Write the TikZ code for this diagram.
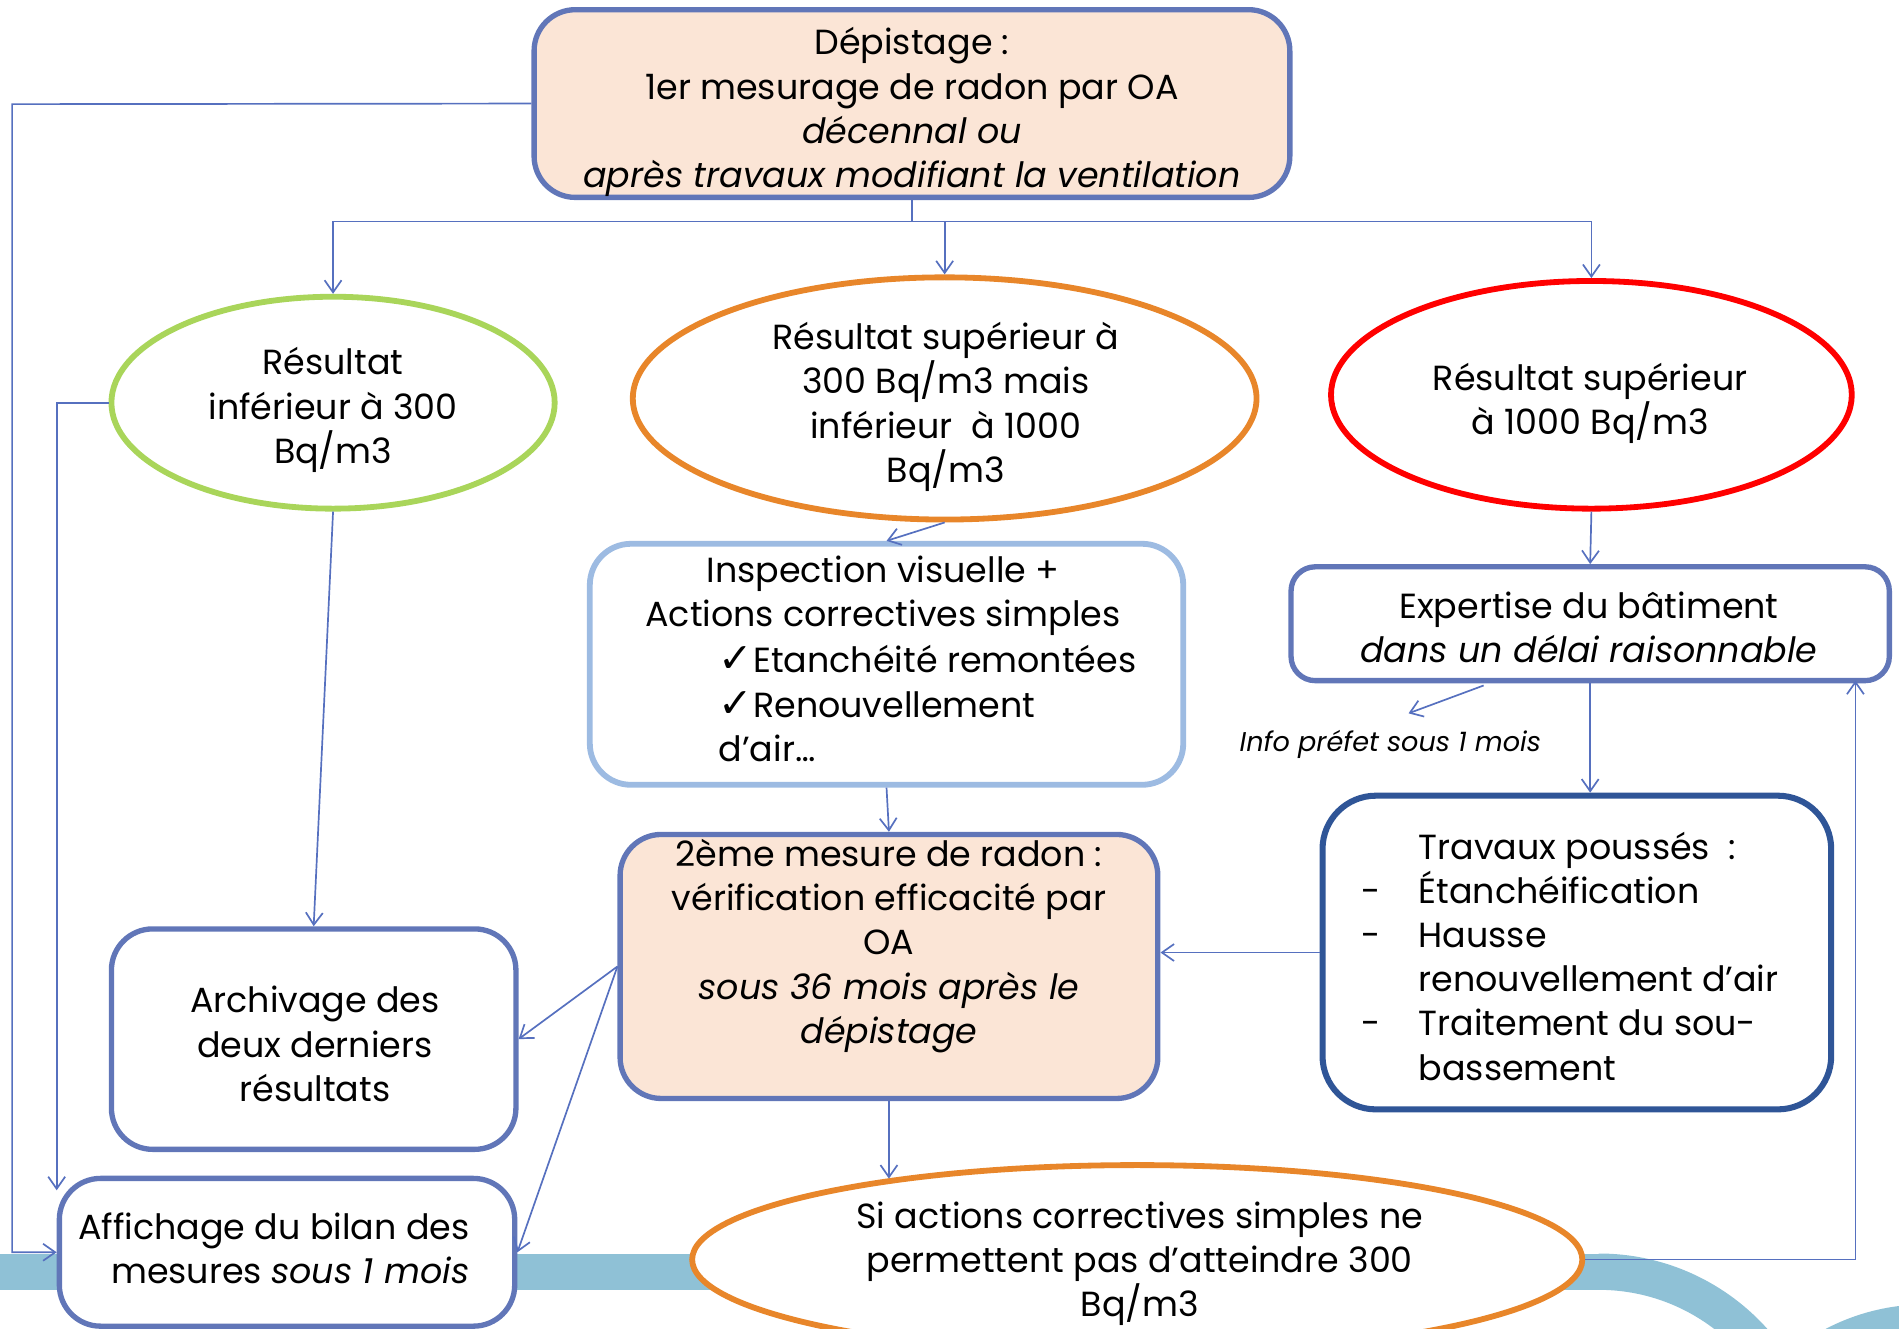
\documentclass[tikz,border=0pt]{standalone}
\usepackage{fontspec}
\setmainfont{Poppins}
\newfontfamily\symfont{DejaVu Sans}
\usetikzlibrary{shapes.geometric,arrows.meta,calc}

\definecolor{peach}{RGB}{251,229,214}
\definecolor{bxblue}{RGB}{97,118,184}
\definecolor{ltblue}{RGB}{157,187,226}
\definecolor{dkblue}{RGB}{47,85,151}
\definecolor{grn}{RGB}{169,213,90}
\definecolor{org}{RGB}{232,134,42}
\definecolor{lnblue}{RGB}{86,112,191}
\definecolor{bandc}{RGB}{143,193,214}

\newcommand{\chk}{{\symfont\fontsize{17}{18.25}\selectfont ✓}}

\tikzset{
 txt/.style={font=\fontsize{14.4}{18.25}\selectfont, align=center, inner sep=0pt},
 box/.style={draw=bxblue, line width=2.2pt, rounded corners=17pt, fill=white, inner sep=0pt},
 ell/.style={ellipse, line width=2.4pt, fill=white, inner sep=0pt},
 conn/.style={draw=lnblue, line width=0.7pt, -{Straight Barb[length=5pt,width=7pt]}},
 plain/.style={draw=lnblue, line width=0.7pt},
}

\begin{document}
\begin{tikzpicture}[x=0.5pt,y=-0.5pt]
\useasboundingbox (0,0) rectangle (1568,1097);
% background band
\fill[bandc] (0,1035) rectangle (1320,1065);
\begin{scope}
\clip (1320,1000) rectangle (1568,1097);
\fill[bandc, even odd rule] (1320,1222) circle[radius=93.5pt] (1320,1222) circle[radius=78.5pt];
\fill[bandc, even odd rule] (1590,1255) circle[radius=89pt] (1590,1255) circle[radius=74pt];
\end{scope}

% top box
\node[box, fill=peach, minimum width=312pt, minimum height=77.5pt] (top) at (753,85.5) {};
\node[txt] (toptxt) at (753,92.5) {Dépistage :\\1er mesurage de radon par OA\\\textit{décennal ou}\\\textit{après travaux modifiant la ventilation}};

% ellipses
\node[ell, draw=grn, minimum width=183pt, minimum height=87.5pt] (green) at (275,332.5) {};
\node[txt] (greentxt) at (275,338.5) {Résultat\\inférieur à 300\\Bq/m3};

\node[ell, draw=org, minimum width=257.5pt, minimum height=100pt] (orange) at (780,329) {};
\node[txt] (orangetxt) at (781,336) {Résultat supérieur à\\300 Bq/m3 mais\\inférieur~~à 1000\\Bq/m3};

\node[ell, draw=red, minimum width=215pt, minimum height=94pt] (redell) at (1314,326) {};
\node[txt] (redtxt) at (1313,333) {Résultat supérieur\\à 1000 Bq/m3};

% inspection
\node[box, draw=ltblue, line width=2.4pt, minimum width=245pt, minimum height=99.5pt] (insp) at (732,548.5) {};
\node[txt] (insptxta) at (729,492) {Inspection visuelle +\\Actions correctives simples};
\node[txt, align=left, anchor=west] (insptxtb) at (593,581) {\chk Etanchéité remontées\\\chk Renouvellement\\d’air…};

% second measure
\node[box, fill=peach, minimum width=222pt, minimum height=109pt] (box2) at (734,798) {};
\node[txt] (box2txt) at (734,781) {2ème mesure de radon :\\vérification efficacité par\\OA\\\textit{sous 36 mois après le}\\\textit{dépistage}};

% archivage
\node[box, minimum width=167pt, minimum height=91pt] (arch) at (259,858) {};
\node[txt] (archtxt) at (260,862) {Archivage des\\deux derniers\\résultats};

% affichage
\node[box, minimum width=188pt, minimum height=61pt] (aff) at (237,1034) {};
\node[txt, align=right, anchor=east] (afftxt) at (388,1031) {Affichage du bilan des\\mesures \textit{sous 1 mois}};

% bottom ellipse
\node[ell, draw=org, minimum width=367.5pt, minimum height=78pt] (bot) at (939,1040) {};
\node[txt] (bottxt) at (941,1043.5) {Si actions correctives simples ne\\permettent pas d’atteindre 300\\Bq/m3};

% expertise
\node[box, rounded corners=10pt, minimum width=247pt, minimum height=47pt] (exp) at (1313,515) {};
\node[txt] (exptxt) at (1312,518) {Expertise du bâtiment\\\textit{dans un délai raisonnable}};

\node[font=\fontsize{11.2}{12}\selectfont\itshape, inner sep=0pt] (info) at (1148,615) {Info préfet sous 1 mois};

% travaux
\node[box, draw=dkblue, line width=2.5pt, rounded corners=22pt, minimum width=210pt, minimum height=129.5pt] (trav) at (1302,786.5) {};
\node[txt, align=left, anchor=west] (travtxt) at (1124,789.5) {\hspace*{23.5pt}Travaux poussés~~:\\\makebox[23.5pt][l]{-}Étanchéification\\\makebox[23.5pt][l]{-}Hausse\\\hspace*{23.5pt}renouvellement d’air\\\makebox[23.5pt][l]{-}Traitement du sou-\\\hspace*{23.5pt}bassement};

% connectors
\coordinate (split) at (753,183);
\draw[plain] (top.south) -- (split);
\draw[conn] (split) -| (green.north);
\draw[conn] (split) -| (orange.north);
\draw[conn] (split) -| (redell.north);
\draw[conn] (orange.south) -- (insp.north);
\draw[conn] (insp.south) -- (box2.north);
\draw[conn] (box2.south) -- (box2.south |- bot.162);
\draw[conn] (trav.west) -- (trav.west -| box2.east);
\draw[conn] (redell.south) -- (exp.north);
\draw[conn] (exp.south) -- (exp.south |- trav.north);
\coordinate (infoA) at (1225,566);
\coordinate (infoB) at (1163,589);
\draw[conn] (infoA) -- (infoB);
\coordinate (expR) at (1532,562);
\draw[conn] (bot.east) -| (expR);
\draw[conn] (box2.west) -- (arch.east);
\draw[conn] (box2.west) -- (aff.east);
\draw[conn] (green.south) -- (arch.north);
\draw[conn] (green.west) -| ($(aff.north west)+(0,12)$);
\coordinate (lr) at (10,86);
\draw[conn] (top.west) -- (lr) |- (aff.west);
\end{tikzpicture}
\end{document}
